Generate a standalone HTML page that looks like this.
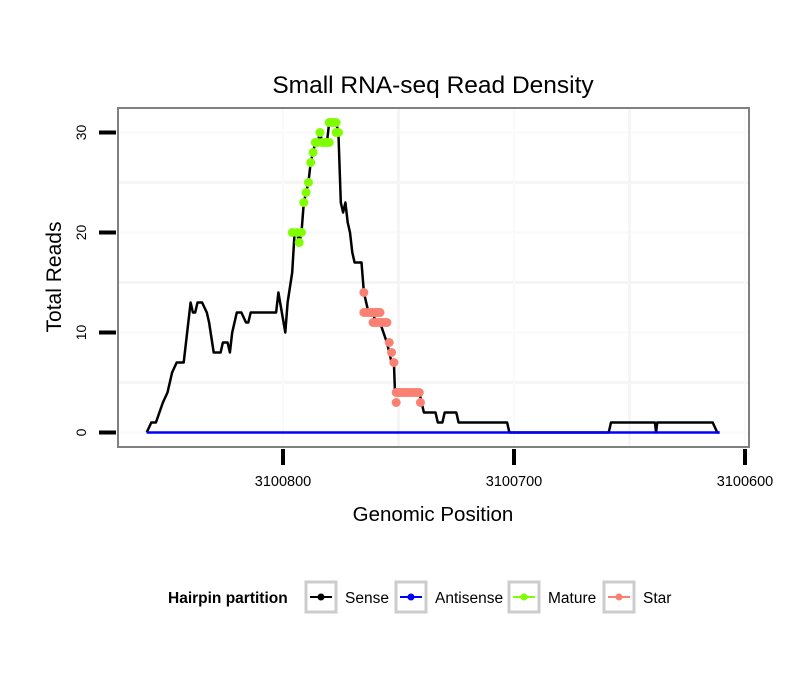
<!DOCTYPE html>
<html><head><meta charset="utf-8"><style>
body{margin:0;background:#fff;}
svg text{font-family:"Liberation Sans",Arial,sans-serif;}
</style></head><body>
<svg id="chart" width="810" height="690" xmlns="http://www.w3.org/2000/svg">
<rect width="810" height="690" fill="#fff"/>
<text x="433" y="93" font-size="24.5" text-anchor="middle">Small RNA-seq Read Density</text>
<g id="grid"></g>
<g id="series"></g>
<rect x="118" y="108" width="631" height="339" fill="none" stroke="#808080" stroke-width="2"/>
<g id="axes"></g>
<text x="433" y="521" font-size="20.5" text-anchor="middle">Genomic Position</text>
<text transform="translate(61,277) rotate(-90)" font-size="21" text-anchor="middle">Total Reads</text>
<g id="legend">
<text x="168" y="603" font-size="15.5" font-weight="bold">Hairpin partition</text>
</g>
</svg>
<script>
const xTicks=[3100800,3100700,3100600];
const yTicks=[0,10,20,30];
const sensePos=[859,857,855,852,850,848,846,843,840,839,838,837,835,833,832,830,827,826,824,823,822,820,818,816,815,814,803,802,799,798,796,795,794,793,792,791,790,789,788,787,786,785,784,783,781,780,777,776,775,774,773,772,771,770,769,767,766,765,763,761,760,758,755,754,753,752,751.5,741,739,734,733,731,730,725,724,703,702,659,658,639,638.5,638,614,612,611];
const senseVal=[0,1,1,3,4,6,7,7,13,12,12,13,13,12,11,8,8,9,9,8,10,12,12,11,11,12,12,14,10,13,16,20,20,19,20,23,24,25,27,28,29,29,30,29,29,31,31,30,23,22,23,21,20,18,17,17,17,14,12,12,11,11,9,8,7,7,4,4,2,2,1,1,2,2,1,1,0,0,1,1,0,1,1,0,0];
const antiPos=[859,611];
const antiVal=[0,0];
const maturePos=[796,794,792,793,791,790,789,788,787,786,785,783,782,781,780,784,780,779,778,777,777,776];
const matureVal=[20,20,20,19,23,24,25,27,28,29,29,29,29,29,29,30,31,31,31,31,30,30];
const starPos=[765,765,764,763,762,761,760,759,758,761,760,759,758,757,756,755,754,753,752,751,750,749,748,747,746,745,744,743,742,741,751,740.5];
const starVal=[14,12,12,12,12,12,12,12,12,11,11,11,11,11,11,11,9,8,7,4,4,4,4,4,4,4,4,4,4,4,3,3];

const NS="http://www.w3.org/2000/svg";
const xs=p=>283+(3100800-(p<100000?3100000+p:p))*2.31;
const ys=v=>432.5-v*10;
function mk(tag,attrs,parent){const e=document.createElementNS(NS,tag);for(const k in attrs)e.setAttribute(k,attrs[k]);document.getElementById(parent).appendChild(e);return e;}
[5,15,25].forEach(v=>{const l=mk('line',{x1:119,x2:748,y1:ys(v),y2:ys(v),stroke:'#f5f5f5','stroke-width':3},'grid');

});
yTicks.forEach(v=>{const l=mk('line',{x1:119,x2:748,y1:ys(v),y2:ys(v),stroke:'#fafafa','stroke-width':2},'grid');

});
[3100750,3100650].forEach(v=>{const l=mk('line',{x1:xs(v),x2:xs(v),y1:109,y2:446,stroke:'#f5f5f5','stroke-width':3},'grid');

});
xTicks.forEach(v=>{const l=mk('line',{x1:xs(v),x2:xs(v),y1:109,y2:446,stroke:'#fafafa','stroke-width':2},'grid');

});
yTicks.forEach(v=>{const t=mk('line',{x1:99,x2:116,y1:ys(v),y2:ys(v),stroke:'#000','stroke-width':4},'axes');


const tx=mk('text',{transform:`translate(86,${ys(v)}) rotate(-90)`,'font-size':14,'text-anchor':'middle'},'axes');tx.textContent=v;

});
xTicks.forEach(v=>{const t=mk('line',{x1:xs(v),x2:xs(v),y1:449,y2:465,stroke:'#000','stroke-width':4},'axes');


const tx=mk('text',{x:xs(v),y:486,'font-size':14.5,'text-anchor':'middle'},'axes');tx.textContent=v;

});
function line(P,V,col,name){const d=P.map((p,i)=>(i?'L':'M')+xs(p).toFixed(1)+','+ys(V[i]).toFixed(1)).join('');
const e=mk('path',{d:d,fill:'none',stroke:col,'stroke-width':2.5,'stroke-linejoin':'round'},'series');

}
line(sensePos,senseVal,'#000','sense-line');
line(antiPos,antiVal,'#0000ff','antisense-line');
function pts(P,V,col,name){P.forEach((p,i)=>{const c=mk('circle',{cx:xs(p),cy:ys(V[i]),r:4.5,fill:col},'series');

});}
pts(maturePos,matureVal,'#7fff00','mature-point');
pts(starPos,starVal,'#fa8072','star-point');
const leg=[['Sense','#000',305],['Antisense','#0000ff',395],['Mature','#7fff00',508],['Star','#fa8072',603]];
leg.forEach(([n,c,x])=>{const b=mk('rect',{x:x+1,y:582,width:30,height:30,fill:'#fff',stroke:'#cccccc','stroke-width':3},'legend');


const l=mk('line',{x1:x+5,x2:x+27,y1:597,y2:597,stroke:c,'stroke-width':2},'legend');


const d=mk('circle',{cx:x+16,cy:597,r:3.5,fill:c},'legend');


const t=mk('text',{x:x+40,y:603,'font-size':15.5},'legend');t.textContent=n;

});
</script>
</body></html>
